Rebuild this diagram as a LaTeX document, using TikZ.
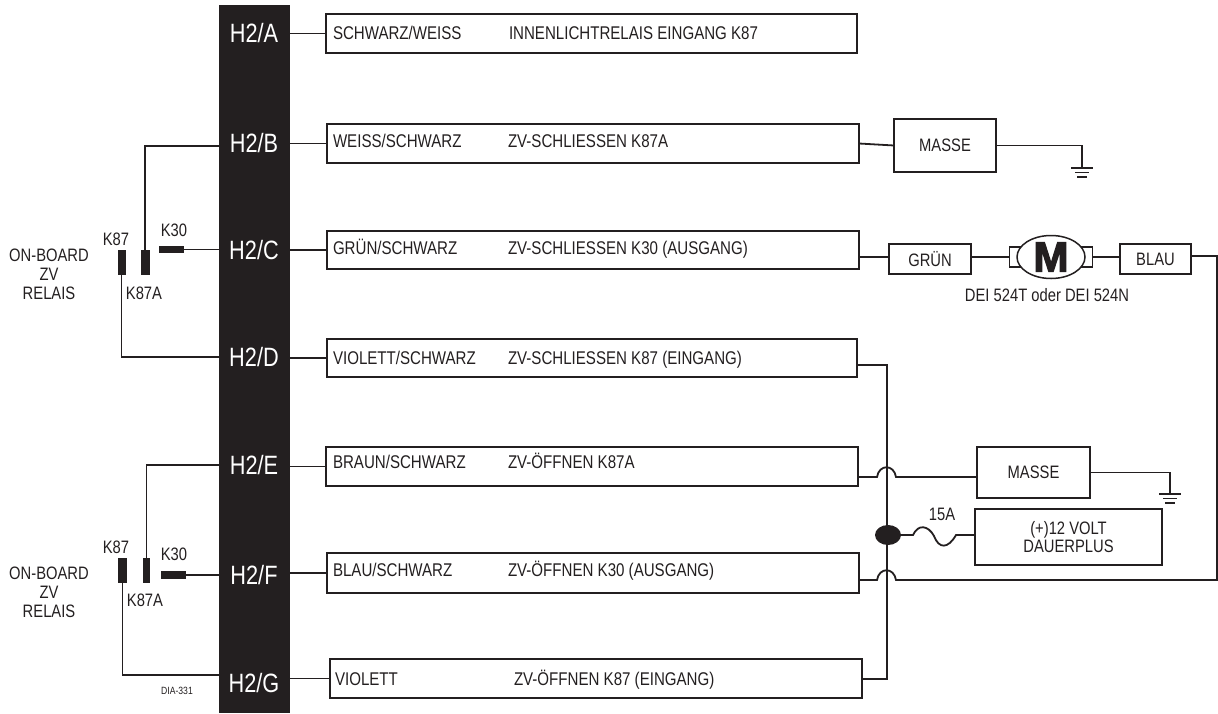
\documentclass[tikz,border=0pt]{standalone}
\usepackage{fontspec}
\setmainfont[FakeStretch=0.82]{Liberation Sans}
\newfontfamily\motorfont[FakeBold=3]{Liberation Sans Bold}
\usepackage{tikz}
\usetikzlibrary{calc}
\usetikzlibrary{shapes.geometric}
\usepackage{color}
\definecolor{ink}{RGB}{35,31,32}
\def\bump{.. controls +(2,-13) and +(-2,-13) .. ++(19,0)}

\begin{document}
\begin{tikzpicture}[ x=1pt, y=-1pt,
      every node/.style={color=ink, outer sep=0pt},
      wire/.style={ink, line width=1.8pt},
      box/.style={draw=ink, line width=2pt, fill=white, inner sep=0pt, align=center,
                  font=\fontsize{18}{18.5}\selectfont},
      harness/.style={box, minimum height=39pt},
      colour text/.style={anchor=west, inner sep=0pt, text height=12pt, text depth=0pt,
                  font=\fontsize{18.4}{20}\selectfont},
      small text/.style={inner sep=0pt, align=center, font=\fontsize{18}{19}\selectfont},
      pin label/.style={color=white, inner sep=0pt, font=\fontsize{26.5}{28}\selectfont},
      pin/.style={fill=ink, inner sep=0pt}
      ]
      \useasboundingbox (0,0) rectangle (1218,713);

      % connector
      \node[fill=ink, inner sep=0pt, minimum width=71pt, minimum height=708pt] (bar) at (254.5,359) {};
      \node[pin label] (H2A) at (254,33) {H2/A};
      \node[pin label] (H2B) at (254,143) {H2/B};
      \node[pin label] (H2C) at (254,250) {H2/C};
      \node[pin label] (H2D) at (254,357) {H2/D};
      \node[pin label] (H2E) at (254,465) {H2/E};
      \node[pin label] (H2F) at (254,575) {H2/F};
      \node[pin label] (H2G) at (254,683) {H2/G};

      % harness boxes
      \node[harness, minimum width=531pt] (boxA) at (591.5,33.5) {};
      \node[harness, minimum width=532pt] (boxB) at (593,143.5) {};
      \node[harness, minimum width=532pt, minimum height=38pt] (boxC) at (593,250) {};
      \node[harness, minimum width=530pt, minimum height=38pt] (boxD) at (592,358) {};
      \node[harness, minimum width=532pt] (boxE) at (592,466.5) {};
      \node[harness, minimum width=532pt, minimum height=40pt] (boxF) at (593,573) {};
      \node[harness, minimum width=532pt] (boxG) at (595.5,678.5) {};

      \node[colour text] (colourA) at (333,33) {SCHWARZ/WEISS};
      \node[colour text] (colourB) at (333,141) {WEISS/SCHWARZ};
      \node[colour text] (colourC) at (333,248) {GRÜN/SCHWARZ};
      \node[colour text] (colourD) at (333,358) {VIOLETT/SCHWARZ};
      \node[colour text] (colourE) at (333,462) {BRAUN/SCHWARZ};
      \node[colour text] (colourF) at (333,570) {BLAU/SCHWARZ};
      \node[colour text] (colourG) at (335,679) {VIOLETT};

      \node[colour text] (useA) at (509,33) {INNENLICHTRELAIS EINGANG K87};
      \node[colour text] (useB) at (508,141) {ZV-SCHLIESSEN K87A};
      \node[colour text] (useC) at (508,248) {ZV-SCHLIESSEN K30 (AUSGANG)};
      \node[colour text] (useD) at (508,358) {ZV-SCHLIESSEN K87 (EINGANG)};
      \node[colour text] (useE) at (508,462) {ZV-ÖFFNEN K87A};
      \node[colour text] (useF) at (508,570) {ZV-ÖFFNEN K30 (AUSGANG)};
      \node[colour text] (useG) at (514,679) {ZV-ÖFFNEN K87 (EINGANG)};

      \draw[wire] (bar.east |- boxA.west) -- (boxA.west);
      \draw[wire] (bar.east |- boxB.west) -- (boxB.west);
      \draw[wire] (bar.east |- boxC.west) -- (boxC.west);
      \draw[wire] (bar.east |- boxD.west) -- (boxD.west);
      \draw[wire] (bar.east |- boxE.west) -- (boxE.west);
      \draw[wire] (bar.east |- boxF.west) -- (boxF.west);
      \draw[wire] (bar.east |- boxG.west) -- (boxG.west);

      % upper relay
      \node[small text] (relayUp) at (49,274) {ON-BOARD\\ZV\\RELAIS};
      \node[pin, minimum width=8pt, minimum height=25pt] (K87up) at (121.5,262.5) {};
      \node[pin, minimum width=9pt, minimum height=25pt] (K87Aup) at (145,262.5) {};
      \node[pin, minimum width=25pt, minimum height=7pt] (K30up) at (171.5,249.5) {};
      \node[small text] at (116,239) {K87};
      \node[small text] at (174,230) {K30};
      \node[small text] at (144,293) {K87A};
      \coordinate (tapB) at (219,146);
      \coordinate (tapD) at (219,357);
      \draw[wire] (K87Aup.north) |- (tapB);
      \draw[wire] (K30up.east) -- (bar.west |- K30up.east);
      \draw[wire] (K87up.south) |- (tapD);

      % lower relay
      \node[small text] (relayLow) at (49,592) {ON-BOARD\\ZV\\RELAIS};
      \node[pin, minimum width=9pt, minimum height=25pt] (K87low) at (122.5,570.5) {};
      \node[pin, minimum width=7pt, minimum height=25pt] (K87Alow) at (146.5,570.5) {};
      \node[pin, minimum width=25pt, minimum height=8pt] (K30low) at (173.5,575) {};
      \node[small text] at (116,547) {K87};
      \node[small text] at (174,554) {K30};
      \node[small text] at (145,600) {K87A};
      \node[inner sep=0pt, font=\fontsize{10.5}{11}\selectfont] (dia) at (177,691) {DIA-331};
      \coordinate (tapE) at (219,465);
      \coordinate (tapG) at (219,675);
      \draw[wire] (K87Alow.north) |- (tapE);
      \draw[wire] (K30low.east) -- (bar.west |- K30low.east);
      \draw[wire] (K87low.south) |- (tapG);

      % ground upper
      \node[box, minimum width=102pt, minimum height=53pt] (masseUp) at (945,145.5) {MASSE};
      \coordinate (gndUp) at (1082,168);
      \draw[wire] (boxB.east) -- (masseUp.west);
      \draw[wire] (masseUp.east) -| (gndUp);
      \draw[wire] ($(gndUp)+(-11,0)$) -- ($(gndUp)+(11,0)$);
      \draw[wire] ($(gndUp)+(-7,4.5)$) -- ($(gndUp)+(7,4.5)$);
      \draw[wire] ($(gndUp)+(-5,9)$) -- ($(gndUp)+(5,9)$);

      % motor
      \node[box, minimum width=82pt, minimum height=30pt] (green) at (930,259) {GRÜN};
      \node[box, minimum width=71pt, minimum height=30pt] (blue) at (1155.5,259) {BLAU};
      \node[draw=ink, line width=1.2pt, fill=white, minimum width=83pt, minimum height=20pt, inner sep=0pt] (tabs) at (1051,257) {};
      \node[draw=ink, line width=1.5pt, fill=white, ellipse, minimum width=68pt, minimum height=43pt, inner sep=0pt,
            font=\motorfont\fontsize{42}{42}\selectfont] (motor) at (1051,257) {M};
      \node[small text] (type) at (1047,295) {DEI 524T oder DEI 524N};
      \draw[wire] (boxC.east |- tabs.west) -- (green.west |- tabs.west);
      \draw[wire] (green.east |- tabs.west) -- (tabs.west);
      \draw[wire] (tabs.east) -- (blue.west |- tabs.east);

      % supply rail
      \coordinate (railTop) at (887,365);
      \coordinate (railLow) at (887,679);
      \draw[wire] (boxD.east |- railTop) -- (railTop) -- (railLow) -- (boxG.east |- railLow);
      \node[fill=ink, ellipse, minimum width=26pt, minimum height=20pt, inner sep=0pt] (junction) at (888,535) {};

      % fuse
      \node[box, minimum width=187pt, minimum height=56pt] (power) at (1068.5,537) {(+)12 VOLT\\DAUERPLUS};
      \node[small text] (fuse) at (942,514) {15A};
      \coordinate (fuseA) at (913,535);
      \coordinate (fuseB) at (956,535);
      \draw[wire] (junction.east) -- (fuseA)
            .. controls +(5,-11) and +(-6,-11) .. (934,536)
            .. controls +(5,13) and +(-8,14) .. (fuseB) -- (power.west |- fuseB);

      % ground lower
      \node[box, minimum width=113pt, minimum height=51pt] (masseLow) at (1033.5,472.5) {MASSE};
      \coordinate (gndLow) at (1170,494);
      \coordinate (hopE) at (877,477);
      \draw[wire] (boxE.east |- hopE) -- (hopE) \bump -- (masseLow.west |- hopE);
      \draw[wire] (masseLow.east) -| (gndLow);
      \draw[wire] ($(gndLow)+(-11,0)$) -- ($(gndLow)+(11,0)$);
      \draw[wire] ($(gndLow)+(-7,4.5)$) -- ($(gndLow)+(7,4.5)$);
      \draw[wire] ($(gndLow)+(-5,9)$) -- ($(gndLow)+(5,9)$);

      % return from motor
      \coordinate (hopF) at (877,580);
      \coordinate (backR) at (1217,256);
      \draw[wire] (boxF.east |- hopF) -- (hopF) \bump -- (backR |- hopF) -- (backR) -- (blue.east |- backR);
    \end{tikzpicture}
\end{document}
